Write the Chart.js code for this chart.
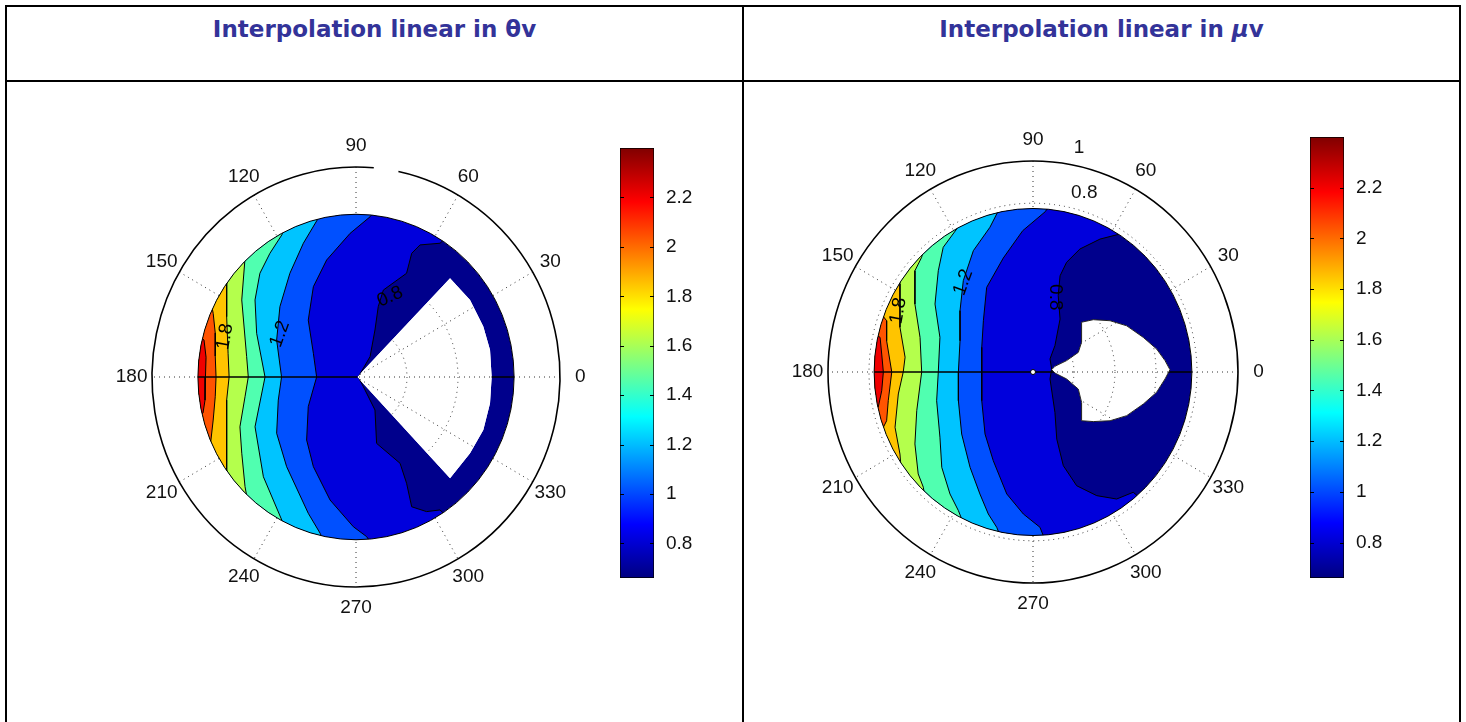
<!DOCTYPE html>
<html>
<head>
<meta charset="utf-8">
<script src="https://cdn.jsdelivr.net/npm/chart.js@4.4.0/dist/chart.umd.min.js"></script>
<style>
  html, body { margin: 0; padding: 0; background: #fff; width: 1466px; height: 722px; overflow: hidden; position: relative; }
  .ln { position: absolute; background: #000; }
  .title { position: absolute; top: 16px; height: 32px; line-height: 32px; text-align: center;
           font: bold 23px "Comic Sans MS", "DejaVu Sans", sans-serif; color: #333399; }
  canvas { position: absolute; }
</style>
</head>
<body>
<div class="ln" style="left:5px;top:5px;width:1456px;height:2px"></div>
<div class="ln" style="left:5px;top:80px;width:1456px;height:2px"></div>
<div class="ln" style="left:5px;top:5px;width:2px;height:717px"></div>
<div class="ln" style="left:742px;top:5px;width:2px;height:717px"></div>
<div class="ln" style="left:1459px;top:5px;width:2px;height:717px"></div>
<div class="title" style="left:7px;width:735px">Interpolation linear in θv</div>
<div class="title" style="left:744px;width:715px">Interpolation linear in <i>μ</i>v</div>

<canvas id="polarL" width="520" height="530" style="left:100px;top:110px"></canvas>
<canvas id="cbarL" width="120" height="470" style="left:600px;top:130px"></canvas>
<canvas id="polarR" width="520" height="530" style="left:775px;top:105px"></canvas>
<canvas id="cbarR" width="120" height="480" style="left:1290px;top:119px"></canvas>

<script>
// polar axis
const angleTicks = [0, 30, 60, 90, 120, 150, 180, 210, 240, 270, 300, 330];
const angleLabels = ['0', '30', '60', '90', '120', '150', '180', '210', '240', '270', '300', '330'];
const ringsL = [0.25, 0.5, 0.75];
const ringsR = [0.2, 0.4, 0.6, 0.8];
const rLabelsR = ['0.8', '1'];
const rLabelPosR = [[0.25, 0.85], [0.224, 1.062]];
const diskR = 0.775;

// contour levels and colour range
const levels = [0.8, 1.0, 1.2, 1.4, 1.6, 1.8, 2.0, 2.2];
const cbTicks = [0.8, 1, 1.2, 1.4, 1.6, 1.8, 2, 2.2];
const cbMin = 0.66, cbMax = 2.40;

// fill colours of the bands as they appear (lowest band first)
const baseColor = '#00008c';
const bandColors = ['#0000dc', '#0050ff', '#00c4ff', '#50ffb0', '#b4ff4c', '#ffc400', '#ff5400', '#f00000'];

// theta = 0/180 seam of the contour grid
const seamPts = [[-0.775, 0], [0, 0], [0.775, 0]];

// left panel: contour lines (top to bottom), value rises to the left
const leftC08 = [[0.46,0.68],[0.412,0.637],[0.314,0.629],[0.273,0.589],[0.248,0.494],[0.134,0.414],[0.109,0.335],[0.093,0.224],[0.069,0.097],[0.011,0],[0.036,-0.046],[0.093,-0.157],[0.101,-0.316],[0.216,-0.411],[0.248,-0.506],[0.273,-0.618],[0.346,-0.641],[0.412,-0.633],[0.46,-0.68]];
const leftC10 = [[0.10,0.80],[0.069,0.763],[-0.029,0.684],[-0.144,0.557],[-0.209,0.43],[-0.234,0.271],[-0.209,0.113],[-0.193,0],[-0.234,-0.141],[-0.242,-0.30],[-0.209,-0.427],[-0.127,-0.586],[-0.013,-0.713],[0.052,-0.76],[0.08,-0.80]];
const leftC12 = [[-0.15,0.80],[-0.185,0.756],[-0.258,0.637],[-0.324,0.494],[-0.373,0.335],[-0.389,0.176],[-0.365,0],[-0.381,-0.11],[-0.389,-0.268],[-0.340,-0.427],[-0.234,-0.649],[-0.176,-0.744],[-0.15,-0.80]];
const leftC14 = [[-0.33,0.75],[-0.364,0.676],[-0.422,0.589],[-0.471,0.494],[-0.495,0.367],[-0.487,0.208],[-0.446,0],[-0.495,-0.237],[-0.454,-0.475],[-0.364,-0.681],[-0.33,-0.75]];
const leftC16 = [[-0.52,0.65],[-0.544,0.565],[-0.560,0.367],[-0.536,0.097],[-0.528,0],[-0.544,-0.094],[-0.569,-0.237],[-0.560,-0.363],[-0.544,-0.522],[-0.52,-0.65]];
const leftC18 = [[-0.62,0.56],[-0.634,0.454],[-0.634,0.287],[-0.627,0.113],[-0.622,0],[-0.634,-0.11],[-0.634,-0.30],[-0.634,-0.459],[-0.62,-0.56]];
const leftC20 = [[-0.72,0.40],[-0.700,0.303],[-0.690,0.21],[-0.690,0.10],[-0.686,0],[-0.690,-0.094],[-0.700,-0.205],[-0.713,-0.316],[-0.73,-0.40]];
const leftC22 = [[-0.80,0.22],[-0.745,0.176],[-0.735,0.094],[-0.738,0],[-0.740,-0.110],[-0.750,-0.171],[-0.80,-0.22]];
const leftHole = [[0.006,0],[0.461,0.470],[0.559,0.367],[0.624,0.240],[0.657,0.129],[0.665,0],[0.657,-0.125],[0.624,-0.252],[0.559,-0.363],[0.461,-0.482]];
const leftClabels = ['0.8', '1.2', '1.8'];
const leftClabelPos = [[0.167, 0.382], [-0.373, 0.205], [-0.642, 0.192]];
const leftClabelRot = [-24, -70, -80];

// right panel
const rightC08 = [[0.46,0.68],[0.424,0.654],[0.327,0.630],[0.229,0.583],[0.164,0.52],[0.132,0.456],[0.123,0.362],[0.132,0.251],[0.107,0.125],[0.083,0.062],[0.091,0.014],[0.083,-0.033],[0.107,-0.191],[0.116,-0.318],[0.148,-0.444],[0.213,-0.539],[0.311,-0.586],[0.408,-0.602],[0.489,-0.57],[0.55,-0.62]];
const rightC10 = [[0.10,0.82],[0.06,0.76],[-0.05,0.67],[-0.145,0.54],[-0.226,0.401],[-0.242,0.243],[-0.250,0.117],[-0.250,0],[-0.250,-0.136],[-0.234,-0.294],[-0.194,-0.420],[-0.128,-0.578],[-0.047,-0.673],[0.034,-0.736],[0.06,-0.80]];
const rightC12 = [[-0.15,0.80],[-0.177,0.749],[-0.210,0.686],[-0.291,0.575],[-0.340,0.433],[-0.356,0.291],[-0.356,0.148],[-0.364,0],[-0.364,-0.136],[-0.348,-0.294],[-0.307,-0.452],[-0.259,-0.578],[-0.218,-0.673],[-0.177,-0.736],[-0.15,-0.80]];
const rightC14 = [[-0.34,0.74],[-0.372,0.678],[-0.438,0.591],[-0.462,0.48],[-0.478,0.322],[-0.454,0.164],[-0.462,0],[-0.470,-0.136],[-0.454,-0.309],[-0.445,-0.452],[-0.405,-0.578],[-0.364,-0.657],[-0.33,-0.74]];
const rightC16 = [[-0.52,0.64],[-0.543,0.544],[-0.576,0.48],[-0.576,0.322],[-0.551,0.164],[-0.543,0],[-0.567,-0.183],[-0.576,-0.341],[-0.560,-0.483],[-0.535,-0.546],[-0.52,-0.64]];
const rightC18 = [[-0.64,0.52],[-0.649,0.417],[-0.649,0.212],[-0.624,0.07],[-0.633,0],[-0.657,-0.104],[-0.673,-0.262],[-0.649,-0.389],[-0.64,-0.50]];
const rightC20 = [[-0.76,0.30],[-0.714,0.243],[-0.714,0.148],[-0.689,0],[-0.706,-0.136],[-0.714,-0.231],[-0.730,-0.262],[-0.78,-0.30]];
const rightC22 = [[-0.80,0.20],[-0.746,0.164],[-0.738,0.085],[-0.730,0],[-0.738,-0.089],[-0.755,-0.167],[-0.80,-0.20]];
const rightHole = [[0.091,0.011],[0.107,0.027],[0.164,0.054],[0.221,0.093],[0.237,0.141],[0.237,0.236],[0.294,0.248],[0.376,0.243],[0.457,0.219],[0.538,0.164],[0.603,0.109],[0.644,0.054],[0.668,0.011],[0.644,-0.033],[0.603,-0.096],[0.538,-0.152],[0.457,-0.207],[0.376,-0.231],[0.294,-0.235],[0.237,-0.231],[0.237,-0.144],[0.221,-0.081],[0.164,-0.033],[0.107,-0.005]];
const rightClabels = ['0.8', '1.2', '1.8'];
const rightClabelPos = [[0.107, 0.354], [-0.340, 0.425], [-0.657, 0.29]];
const rightClabelRot = [90, -70, -80];

const tickFont = '19px "Liberation Sans", Arial, sans-serif';
const RAD = Math.PI / 180;

// MATLAB jet colormap, t in [0, 1]
function jetT(t) {
  const c = k => Math.round(255 * Math.max(0, Math.min(1, k)));
  return 'rgb(' + c(Math.min(4 * t - 1.5, -4 * t + 4.5)) + ',' +
                  c(Math.min(4 * t - 0.5, -4 * t + 3.5)) + ',' +
                  c(Math.min(4 * t + 0.5, -4 * t + 2.5)) + ')';
}

// draws the polar grid under the data, clips the data to the disk minus the hole
const polarGrid = {
  id: 'polarGrid',
  beforeDatasetsDraw(chart) {
    const o = chart.options.plugins.polarGrid;
    const ctx = chart.ctx, xs = chart.scales.x, ys = chart.scales.y;
    const cx = xs.getPixelForValue(0), cy = ys.getPixelForValue(0);
    const ux = xs.getPixelForValue(1) - cx, uy = cy - ys.getPixelForValue(1);
    const px = p => [xs.getPixelForValue(p[0]), ys.getPixelForValue(p[1])];

    ctx.save();
    ctx.strokeStyle = '#333';
    ctx.lineWidth = 1;
    ctx.setLineDash([1, 4]);
    o.rings.forEach(r => {
      ctx.beginPath();
      ctx.ellipse(cx, cy, r * ux, r * uy, 0, 0, 2 * Math.PI);
      ctx.stroke();
    });
    angleTicks.filter(a => a < 180).forEach(a => {
      ctx.beginPath();
      ctx.moveTo(cx + Math.cos(a * RAD) * ux, cy - Math.sin(a * RAD) * uy);
      ctx.lineTo(cx - Math.cos(a * RAD) * ux, cy + Math.sin(a * RAD) * uy);
      ctx.stroke();
    });
    ctx.setLineDash([]);
    ctx.strokeStyle = '#000';
    ctx.lineWidth = 1.6;
    ctx.beginPath();
    if (o.gap) ctx.ellipse(cx, cy, ux, uy, 0, -o.gap[0] * RAD, (360 - o.gap[1]) * RAD);
    else ctx.ellipse(cx, cy, ux, uy, 0, 0, 2 * Math.PI);
    ctx.stroke();

    ctx.fillStyle = '#111';
    ctx.font = tickFont;
    ctx.textAlign = 'center';
    ctx.textBaseline = 'middle';
    angleTicks.forEach((a, i) => {
      ctx.fillText(angleLabels[i], cx + 1.1 * Math.cos(a * RAD) * ux, cy - 1.1 * Math.sin(a * RAD) * uy);
    });
    (o.rLabels || []).forEach((t, i) => {
      const p = px(o.rLabelPos[i]);
      ctx.fillText(t, p[0], p[1]);
    });
    ctx.restore();

    ctx.save();
    ctx.beginPath();
    ctx.ellipse(cx, cy, diskR * ux, diskR * uy, 0, 0, 2 * Math.PI);
    if (o.hole) {
      o.hole.forEach((h, i) => {
        const p = px(h);
        if (i === 0) ctx.moveTo(p[0], p[1]); else ctx.lineTo(p[0], p[1]);
      });
      ctx.closePath();
    }
    ctx.clip('evenodd');
    ctx.fillStyle = baseColor;
    ctx.fill('evenodd');
  },
  afterDatasetsDraw(chart) {
    const o = chart.options.plugins.polarGrid;
    const ctx = chart.ctx, xs = chart.scales.x, ys = chart.scales.y;
    ctx.restore();
    const cx = xs.getPixelForValue(0), cy = ys.getPixelForValue(0);
    const ux = xs.getPixelForValue(1) - cx, uy = cy - ys.getPixelForValue(1);
    const px = p => [xs.getPixelForValue(p[0]), ys.getPixelForValue(p[1])];
    ctx.save();
    ctx.strokeStyle = '#000';
    ctx.lineWidth = 1;
    ctx.beginPath();
    ctx.ellipse(cx, cy, diskR * ux, diskR * uy, 0, 0, 2 * Math.PI);
    ctx.stroke();
    if (o.holeOutline) {
      ctx.beginPath();
      o.hole.forEach((h, i) => {
        const p = px(h);
        if (i === 0) ctx.moveTo(p[0], p[1]); else ctx.lineTo(p[0], p[1]);
      });
      ctx.closePath();
      ctx.strokeStyle = '#222';
      ctx.stroke();
    }
    ctx.fillStyle = '#000';
    ctx.font = '19px "Liberation Sans", Arial, sans-serif';
    ctx.textAlign = 'center';
    ctx.textBaseline = 'middle';
    o.clabels.forEach((t, i) => {
      const p = px(o.clabelPos[i]);
      ctx.save();
      ctx.translate(p[0], p[1]);
      ctx.rotate(o.clabelRot[i] * RAD);
      ctx.fillText(t, 0, 0);
      ctx.restore();
    });
    ctx.restore();
  }
};

function polarChart(id, cfg, pad) {
  const closing = [[-1.5, -2.5], [-1.5, 2.5]];
  const datasets = cfg.contours.map((c, i) => ({
    label: String(levels[i]),
    data: c.concat(closing, [c[0]]).map(p => ({x: p[0], y: p[1]})),
    fill: 'shape',
    backgroundColor: bandColors[i],
    borderColor: '#000',
    borderWidth: 1,
    pointRadius: 0,
    tension: 0,
    order: 20 - i
  }));
  datasets.push({
    data: seamPts.map(p => ({x: p[0], y: p[1]})),
    fill: false,
    borderColor: '#000',
    borderWidth: 1.3,
    pointRadius: cfg.seamDots,
    pointBackgroundColor: '#fff',
    pointBorderColor: '#000',
    pointBorderWidth: 1,
    order: 0
  });
  new Chart(document.getElementById(id), {
    type: 'line',
    data: { datasets: datasets },
    options: {
      responsive: false,
      animation: false,
      events: [],
      layout: { padding: pad },
      plugins: {
        legend: { display: false },
        tooltip: { enabled: false },
        polarGrid: cfg
      },
      scales: {
        x: { type: 'linear', min: -1, max: 1, display: false },
        y: { type: 'linear', min: -1, max: 1, display: false }
      }
    },
    plugins: [polarGrid]
  });
}

const cbTickMarks = {
  id: 'cbTickMarks',
  afterDatasetsDraw(chart) {
    const ctx = chart.ctx, a = chart.chartArea, ys = chart.scales.y;
    ctx.save();
    ctx.strokeStyle = '#000';
    ctx.lineWidth = 1;
    cbTicks.forEach(v => {
      const y = Math.round(ys.getPixelForValue(v)) + 0.5;
      ctx.beginPath();
      ctx.moveTo(a.left, y); ctx.lineTo(a.left + 4, y);
      ctx.moveTo(a.right, y); ctx.lineTo(a.right - 4, y);
      ctx.stroke();
    });
    ctx.restore();
  }
};

function colorbar(id, pad, axisW) {
  new Chart(document.getElementById(id), {
    type: 'bar',
    data: {
      labels: [''],
      datasets: [{
        data: [[cbMin, cbMax]],
        backgroundColor: c => {
          const a = c.chart.chartArea;
          if (!a) return '#000';
          const g = c.chart.ctx.createLinearGradient(0, a.bottom, 0, a.top);
          [0, 0.125, 0.375, 0.625, 0.875, 1].forEach(t => g.addColorStop(t, jetT(t)));
          return g;
        },
        borderColor: '#000',
        borderWidth: 1,
        borderSkipped: false,
        barPercentage: 1,
        categoryPercentage: 1
      }]
    },
    options: {
      responsive: false,
      animation: false,
      events: [],
      layout: { padding: pad },
      plugins: { legend: { display: false }, tooltip: { enabled: false } },
      scales: {
        x: { display: false },
        y: {
          position: 'right',
          min: cbMin,
          max: cbMax,
          afterBuildTicks: s => { s.ticks = cbTicks.map(v => ({ value: v })); },
          afterFit: s => { s.width = axisW; },
          grid: { display: false },
          border: { display: false },
          ticks: {
            color: '#111',
            padding: 4,
            font: { family: '"Liberation Sans", Arial, sans-serif', size: 19 },
            callback: v => String(v)
          }
        }
      }
    },
    plugins: [cbTickMarks]
  });
}

polarChart('polarL', {
  contours: [leftC08, leftC10, leftC12, leftC14, leftC16, leftC18, leftC20, leftC22],
  rings: ringsL, hole: leftHole, holeOutline: false, gap: [78, 85],
  clabels: leftClabels, clabelPos: leftClabelPos, clabelRot: leftClabelRot,
  seamDots: [0, 0, 0]
}, { left: 52, right: 60, top: 57, bottom: 53 });

polarChart('polarR', {
  contours: [rightC08, rightC10, rightC12, rightC14, rightC16, rightC18, rightC20, rightC22],
  rings: ringsR, hole: rightHole, holeOutline: true,
  rLabels: rLabelsR, rLabelPos: rLabelPosR,
  clabels: rightClabels, clabelPos: rightClabelPos, clabelRot: rightClabelRot,
  seamDots: [0, 2.5, 0]
}, { left: 53, right: 57, top: 56, bottom: 52 });

colorbar('cbarL', { left: 20, right: 0, top: 18, bottom: 22 }, 66);
colorbar('cbarR', { left: 20, right: 0, top: 18, bottom: 21 }, 66);
</script>
</body>
</html>
